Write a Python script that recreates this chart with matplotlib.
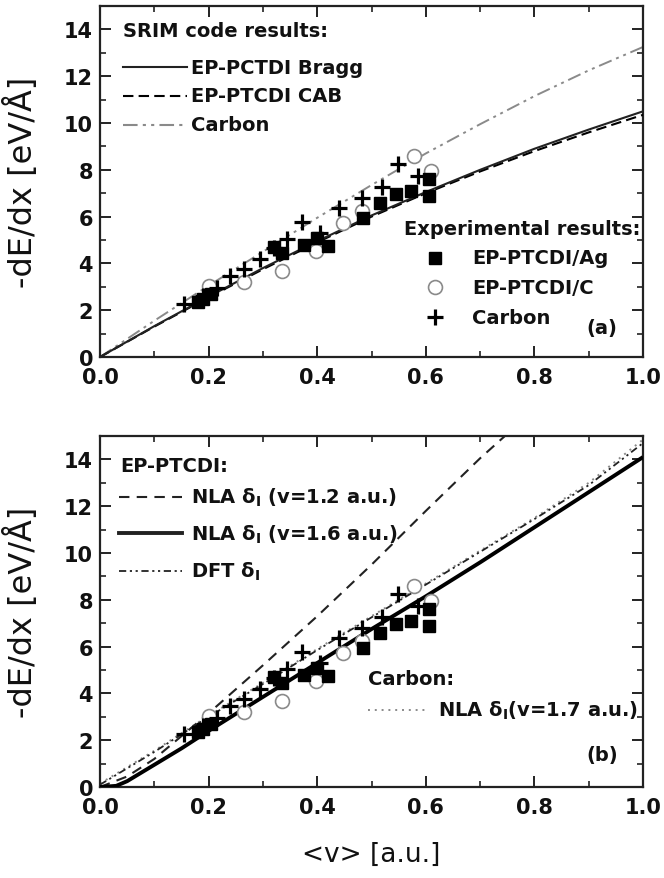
import matplotlib
matplotlib.use("Agg")
import matplotlib.pyplot as plt
from matplotlib.ticker import MultipleLocator
from matplotlib.lines import Line2D

plt.rcParams['font.family'] = ['DejaVu Sans']
plt.rcParams['font.weight'] = 'bold'
plt.rcParams['mathtext.fontset'] = 'dejavusans'
plt.rcParams['mathtext.default'] = 'bf'

# ---- experimental stopping powers ----
ag_v = [0.18, 0.19, 0.205, 0.32, 0.335, 0.375, 0.40, 0.42, 0.485, 0.515, 0.545, 0.572, 0.605, 0.605]
ag_s = [2.35, 2.5, 2.7, 4.7, 4.45, 4.8, 5.1, 4.75, 5.95, 6.6, 6.95, 7.1, 6.9, 7.6]

c_film_v = [0.20, 0.265, 0.335, 0.397, 0.448, 0.483, 0.579, 0.61]
c_film_s = [3.05, 3.2, 3.67, 4.52, 5.72, 6.25, 8.6, 7.97]

carbon_v = [0.155, 0.19, 0.215, 0.24, 0.265, 0.295, 0.32, 0.345, 0.372, 0.405, 0.44, 0.483, 0.52, 0.548, 0.585]
carbon_s = [2.25, 2.6, 2.95, 3.45, 3.75, 4.2, 4.65, 5.05, 5.75, 5.3, 6.35, 6.8, 7.25, 8.25, 7.75]

# ---- SRIM curves (panel a) ----
srim_v = [0.0, 0.1, 0.2, 0.3, 0.4, 0.5, 0.6, 0.7, 0.8, 0.9, 1.0]
srim_bragg = [0.0, 1.32, 2.58, 3.8, 4.95, 6.05, 7.05, 8.0, 8.9, 9.72, 10.5]
srim_cab = [0.0, 1.3, 2.55, 3.75, 4.9, 6.0, 7.0, 7.93, 8.8, 9.6, 10.35]
srim_carbon = [0.0, 1.55, 3.05, 4.5, 5.95, 7.35, 8.7, 9.95, 11.15, 12.25, 13.25]

# ---- NLA / DFT curves (panel b) ----
nla12_v = [0.0, 0.05, 0.1, 0.2, 0.3, 0.4, 0.5, 0.6, 0.7, 0.76]
nla12_s = [0.0, 0.45, 1.2, 3.15, 5.2, 7.3, 9.5, 11.8, 14.05, 15.3]
nla16_v = [0.0, 0.03, 0.05, 0.1, 0.15, 0.2, 0.3, 0.4, 0.5, 0.6, 0.7, 0.8, 0.9, 1.0]
nla16_s = [0.0, 0.05, 0.25, 0.95, 1.65, 2.4, 3.85, 5.3, 6.75, 8.15, 9.6, 11.1, 12.6, 14.1]
dft_v = [0.0, 0.1, 0.2, 0.3, 0.4, 0.5, 0.6, 0.7, 0.8, 0.9, 1.0]
dft_s = [0.1, 1.5, 3.0, 4.4, 5.85, 7.25, 8.65, 10.05, 11.45, 12.9, 14.7]
nla17_v = [0.0, 0.1, 0.2, 0.3, 0.4, 0.5, 0.6, 0.7, 0.8, 0.9, 1.0]
nla17_s = [0.15, 1.55, 3.05, 4.45, 5.9, 7.3, 8.7, 10.1, 11.5, 13.0, 14.85]

FS_TICK = 15
FS_LEG = 14
FS_YLAB = 23
FS_XLAB = 19
INK = '#111111'
GREY = '#8a8a8a'
DASH_DD = (0, (7, 2.5, 1.5, 2.5, 1.5, 2.5))
DASH_DFT = (0, (4, 2, 1.2, 2, 1.2, 2))
DASH_CAB = (0, (5, 2.5))
DASH_NLA12 = (0, (5, 3.5))
DOT = (0, (1, 2.5))

fig = plt.figure(figsize=(6.64, 8.79), dpi=100)
ax_a = fig.add_axes([0.1506, 0.5927, 0.8178, 0.3993])
ax_b = fig.add_axes([0.1506, 0.1035, 0.8178, 0.3993])


def style_axes(ax):
    ax.set_xlim(0, 1.0)
    ax.set_ylim(0, 15)
    ax.xaxis.set_minor_locator(MultipleLocator(0.1))
    ax.yaxis.set_minor_locator(MultipleLocator(1))
    ax.set_xticks([0.0, 0.2, 0.4, 0.6, 0.8, 1.0])
    ax.set_xticklabels(['0.0', '0.2', '0.4', '0.6', '0.8', '1.0'])
    ax.set_yticks([0, 2, 4, 6, 8, 10, 12, 14])
    ax.tick_params(which='both', direction='in', top=True, right=True,
                   colors='#222222', labelcolor=INK, labelsize=FS_TICK)
    ax.tick_params(which='major', length=8, width=1.4)
    ax.tick_params(axis='x', which='major', pad=7)
    ax.tick_params(axis='y', which='major', pad=5)
    ax.tick_params(which='minor', length=4.5, width=1.2)
    for sp in ax.spines.values():
        sp.set_linewidth(1.6)
        sp.set_color('#222222')
    ax.set_ylabel('-dE/dx [eV/Å]', fontsize=FS_YLAB, color=INK)
    ax.yaxis.set_label_coords(-0.112, 0.5)


def draw_points(ax):
    ax.plot(c_film_v, c_film_s, 'o', ms=10, mfc='white', mec=GREY, mew=1.2, zorder=4)
    ax.plot(ag_v, ag_s, 's', ms=8.5, mfc='black', mec='black', zorder=5)
    ax.plot(carbon_v, carbon_s, '+', ms=11, mec='black', mew=2.3, zorder=6)


def label(ax, x, y, s):
    ax.text(x, y / 15, s, transform=ax.transAxes, fontsize=FS_LEG, color=INK,
            va='center', ha='left')


def sample(ax, x0, x1, y, **kw):
    ax.add_line(Line2D([x0, x1], [y / 15, y / 15], transform=ax.transAxes, **kw))


# ---------------- panel (a) ----------------
style_axes(ax_a)
ax_a.plot(srim_v, srim_carbon, color=GREY, lw=1.4, linestyle=DASH_DD, zorder=2)
ax_a.plot(srim_v, srim_cab, color='black', lw=1.5, linestyle=DASH_CAB, zorder=3)
ax_a.plot(srim_v, srim_bragg, color='#222222', lw=1.5, zorder=3)
draw_points(ax_a)

label(ax_a, 0.042, 13.97, 'SRIM code results:')
a_rows = [(12.38, '-', '#222222', 'EP-PCTDI Bragg'),
          (11.17, DASH_CAB, 'black', 'EP-PTCDI CAB'),
          (9.92, DASH_DD, GREY, 'Carbon')]
for y, ls, col, lab in a_rows:
    sample(ax_a, 0.042, 0.161, y, color=col, lw=1.5, linestyle=ls)
    label(ax_a, 0.168, y, lab)

label(ax_a, 0.559, 5.5, 'Experimental results:')
T = ax_a.transAxes
ax_a.plot([0.617], [4.24 / 15], 's', ms=8.5, mfc='black', mec='black', transform=T)
ax_a.plot([0.617], [2.98 / 15], 'o', ms=10, mfc='white', mec=GREY, mew=1.2, transform=T)
ax_a.plot([0.617], [1.71 / 15], '+', ms=11, mec='black', mew=2.3, transform=T)
for y, lab in [(4.24, 'EP-PTCDI/Ag'), (2.98, 'EP-PTCDI/C'), (1.71, 'Carbon')]:
    label(ax_a, 0.685, y, lab)
label(ax_a, 0.895, 1.25, '(a)')

# ---------------- panel (b) ----------------
style_axes(ax_b)
ax_b.plot(nla17_v, nla17_s, color=GREY, lw=1.4, linestyle=DOT, zorder=2)
ax_b.plot(dft_v, dft_s, color='#222222', lw=1.3, linestyle=DASH_DFT, zorder=2)
ax_b.plot(nla12_v, nla12_s, color='#222222', lw=1.5, linestyle=DASH_NLA12, zorder=2)
ax_b.plot(nla16_v, nla16_s, color='black', lw=2.8, zorder=3, solid_capstyle='butt')
draw_points(ax_b)
ax_b.set_xlabel('<v> [a.u.]', fontsize=FS_XLAB, color=INK)
ax_b.xaxis.set_label_coords(0.5, -0.155)

label(ax_b, 0.038, 13.73, 'EP-PTCDI:')
b_rows = [(12.4, DASH_NLA12, 1.5, 'NLA δ$_\\mathbf{I}$ (v=1.2 a.u.)'),
          (10.84, '-', 2.8, 'NLA δ$_\\mathbf{I}$ (v=1.6 a.u.)'),
          (9.22, DASH_DFT, 1.3, 'DFT δ$_\\mathbf{I}$')]
for y, ls, lw, lab in b_rows:
    sample(ax_b, 0.035, 0.151, y, color='#222222', lw=lw, linestyle=ls)
    label(ax_b, 0.167, y, lab)

label(ax_b, 0.493, 4.65, 'Carbon:')
sample(ax_b, 0.493, 0.599, 3.31, color=GREY, lw=1.4, linestyle=DOT)
label(ax_b, 0.623, 3.31, 'NLA δ$_\\mathbf{I}$(v=1.7 a.u.)')
label(ax_b, 0.895, 1.41, '(b)')

fig.savefig('out.png', dpi=100)
